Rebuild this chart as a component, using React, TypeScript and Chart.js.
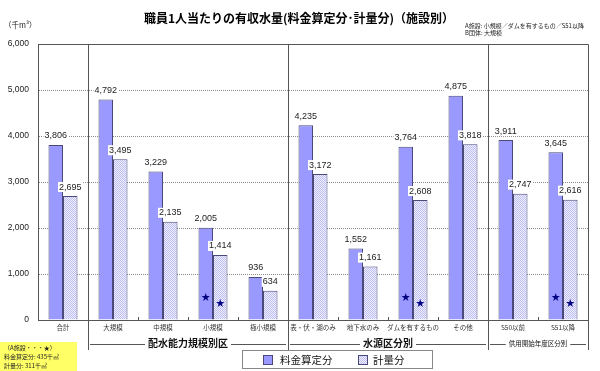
import React, { useEffect, useRef } from "react";
import { Chart, registerables } from "chart.js";

Chart.register(...registerables);

const categories = [
  "合計",
  "大規模",
  "中規模",
  "小規模",
  "極小規模",
  "表・伏・湖のみ",
  "地下水のみ",
  "ダムを有するもの",
  "その他",
  "S50以前",
  "S51以降",
];
const ryokinValues = [3806, 4792, 3229, 2005, 936, 4235, 1552, 3764, 4875, 3911, 3645];
const keiryoValues = [2695, 3495, 2135, 1414, 634, 3172, 1161, 2608, 3818, 2747, 2616];
const seriesNames = ["料金算定分", "計量分"];
const yTickValues = [0, 1000, 2000, 3000, 4000, 5000, 6000];
const starCategoryIndexes = [3, 7, 10];
const starValues = [435, 311];
const groupLabels = ["配水能力規模別区", "水源区分別", "供用開始年度区分別"];
const groupStarts = [1, 5, 9];
const groupEnds = [4, 8, 10];
const titleText = "職員1人当たりの有収水量(料金算定分･計量分)（施設別）";
const unitText = "（千m³）";
const noteLines = ["A施設: 小規模／ダムを有するもの／S51以降", "B団体: 大規模"];
const boxLines = ["（A施設・・・★）", "料金算定分: 435千㎥", "計量分: 311千㎥"];

const FONT = "'Liberation Sans', 'Noto Sans CJK JP', sans-serif";
const JFONT = "'Noto Sans CJK JP', 'Liberation Sans', sans-serif";
const BLUE = "#9999ff";
const EDGE = "#4a4a7a";

function makePattern(): CanvasPattern | string {
  const c = document.createElement("canvas");
  c.width = 2;
  c.height = 2;
  const g = c.getContext("2d");
  if (!g) return "#dcdcfa";
  g.fillStyle = "#f0f0ff";
  g.fillRect(0, 0, 2, 2);
  g.fillStyle = "#bcbcee";
  g.fillRect(0, 0, 1, 1);
  g.fillRect(1, 1, 1, 1);
  const p = g.createPattern(c, "repeat");
  return p || "#dcdcfa";
}

const fmt = (v: number) => v.toLocaleString("en-US");

export default function App() {
  const ref = useRef<HTMLCanvasElement | null>(null);

  useEffect(() => {
    const canvas = ref.current;
    if (!canvas) return;
    const pattern = makePattern();

    const labelsPlugin = {
      id: "valueLabels",
      afterDatasetsDraw(chart: any) {
        const { ctx } = chart;
        ctx.save();
        ctx.font = `9px ${FONT}`;
        ctx.textAlign = "center";
        ctx.textBaseline = "middle";
        chart.data.datasets.forEach((ds: any, di: number) => {
          const meta = chart.getDatasetMeta(di);
          meta.data.forEach((el: any, i: number) => {
            const txt = fmt(ds.data[i]);
            const w = ctx.measureText(txt).width;
            const yy = el.y - 9;
            ctx.fillStyle = "#ffffff";
            ctx.fillRect(el.x - w / 2 - 1, yy - 5, w + 2, 10);
            ctx.fillStyle = "#222";
            ctx.fillText(txt, el.x, yy);
          });
        });
        // stars
        ctx.fillStyle = "#000080";
        ctx.font = `9px ${JFONT}`;
        starCategoryIndexes.forEach((ci) => {
          [0, 1].forEach((di) => {
            const el = chart.getDatasetMeta(di).data[ci];
            const yy = chart.scales.y.getPixelForValue(starValues[di]) - 3;
            ctx.fillText("★", el.x, yy);
          });
        });
        ctx.restore();
      },
    };

    const extrasPlugin = {
      id: "extras",
      afterDraw(chart: any) {
        const { ctx, chartArea: ca } = chart;
        const x = chart.scales.x;
        const r = (v: number) => Math.round(v) + 0.5;
        ctx.save();
        ctx.strokeStyle = "#555";
        ctx.lineWidth = 1;
        // top & right frame
        ctx.beginPath();
        ctx.moveTo(r(ca.left), r(ca.top));
        ctx.lineTo(r(ca.right), r(ca.top));
        ctx.lineTo(r(ca.right), 350);
        ctx.stroke();
        // dividers
        groupStarts.forEach((gs) => {
          const bx = r(x.getPixelForValue(gs - 0.5));
          ctx.beginPath();
          ctx.moveTo(bx, ca.top);
          ctx.lineTo(bx, 350);
          ctx.stroke();
        });
        // small ticks at other boundaries
        for (let i = 1; i < categories.length; i++) {
          if (groupStarts.includes(i)) continue;
          const bx = r(x.getPixelForValue(i - 0.5));
          ctx.beginPath();
          ctx.moveTo(bx, ca.bottom - 3);
          ctx.lineTo(bx, ca.bottom);
          ctx.stroke();
        }
        // group labels
        groupLabels.forEach((lab, gi) => {
          const x0 = x.getPixelForValue(groupStarts[gi] - 0.5);
          const x1 = x.getPixelForValue(groupEnds[gi] + 0.5);
          const yy = 344.5;
          ctx.strokeStyle = "#555";
          ctx.beginPath();
          ctx.moveTo(x0 + 2, yy);
          ctx.lineTo(x1 - 2, yy);
          ctx.stroke();
          ctx.font = gi === 2 ? `6.5px ${JFONT}` : `bold 10px ${JFONT}`;
          const w = ctx.measureText(lab).width;
          const cx = (x0 + x1) / 2;
          ctx.fillStyle = "#fff";
          ctx.fillRect(cx - w / 2 - 3, yy - 7, w + 6, 14);
          ctx.fillStyle = "#111";
          ctx.textAlign = "center";
          ctx.textBaseline = "middle";
          ctx.fillText(lab, cx, yy - 1);
        });
        // title
        ctx.fillStyle = "#000";
        ctx.textAlign = "center";
        ctx.textBaseline = "middle";
        ctx.font = `bold 12px ${JFONT}`;
        ctx.fillText(titleText, 299, 18);
        // unit
        ctx.textAlign = "left";
        ctx.font = `7.5px ${JFONT}`;
        ctx.fillStyle = "#222";
        ctx.fillText(unitText, 4, 25);
        // notes
        ctx.font = `6px ${JFONT}`;
        ctx.fillText(noteLines[0], 465, 26);
        ctx.fillText(noteLines[1], 465, 33);
        // yellow box
        ctx.fillStyle = "#ffff66";
        ctx.fillRect(0, 342, 77, 29);
        ctx.fillStyle = "#222";
        ctx.font = `6px ${JFONT}`;
        boxLines.forEach((t, i) => ctx.fillText(t, 4, 348 + i * 9));
        // legend box
        ctx.fillStyle = "#fff";
        ctx.fillRect(242, 350, 190, 18);
        ctx.strokeStyle = "#888";
        ctx.strokeRect(242.5, 350.5, 190, 18);
        ctx.fillStyle = BLUE;
        ctx.fillRect(263, 355, 10, 10);
        ctx.strokeStyle = EDGE;
        ctx.strokeRect(263.5, 355.5, 9, 9);
        ctx.fillStyle = pattern as any;
        ctx.fillRect(358, 355, 10, 10);
        ctx.strokeRect(358.5, 355.5, 9, 9);
        ctx.fillStyle = "#111";
        ctx.font = `10.5px ${JFONT}`;
        ctx.textBaseline = "middle";
        ctx.fillText(seriesNames[0], 280, 360);
        ctx.fillText(seriesNames[1], 373, 360);
        ctx.restore();
      },
    };

    const chart = new Chart(canvas, {
      type: "bar",
      data: {
        labels: categories,
        datasets: [
          {
            label: seriesNames[0],
            data: ryokinValues,
            backgroundColor: BLUE,
            borderColor: EDGE,
            borderWidth: 1,
            categoryPercentage: 0.58,
            barPercentage: 1,
          },
          {
            label: seriesNames[1],
            data: keiryoValues,
            backgroundColor: pattern as any,
            borderColor: EDGE,
            borderWidth: 1,
            categoryPercentage: 0.58,
            barPercentage: 1,
          },
        ],
      },
      options: {
        responsive: false,
        animation: false,
        layout: { padding: { top: 44, right: 12, left: 0, bottom: 0 } },
        plugins: {
          legend: { display: false },
          title: { display: false },
          tooltip: { enabled: false },
        },
        scales: {
          x: {
            afterFit: (s: any) => {
              s.height = 51;
            },
            grid: { display: false, drawTicks: false },
            border: { display: true, color: "#555", width: 1 },
            ticks: {
              autoSkip: false,
              maxRotation: 0,
              minRotation: 0,
              padding: 4,
              color: "#333",
              font: { size: 6.5, family: JFONT },
            },
          },
          y: {
            min: 0,
            max: 6000,
            afterFit: (s: any) => {
              s.width = 38;
            },
            afterBuildTicks: (s: any) => {
              s.ticks = yTickValues.map((v) => ({ value: v }));
            },
            grid: { color: "#8c8c8c", drawTicks: false, lineWidth: 1 },
            border: { display: true, color: "#555", width: 1, dash: [1, 1] },
            ticks: {
              padding: 9,
              color: "#222",
              font: { size: 8.5, family: FONT },
              callback: (v: any) => fmt(Number(v)),
            },
          },
        },
      },
      plugins: [labelsPlugin, extrasPlugin],
    });
    return () => chart.destroy();
  }, []);

  return (
    <div style={{ position: "absolute", left: 0, top: 0, width: 600, height: 371, background: "#fff" }}>
      <canvas ref={ref} width={600} height={371} style={{ width: 600, height: 371, display: "block" }} />
    </div>
  );
}
